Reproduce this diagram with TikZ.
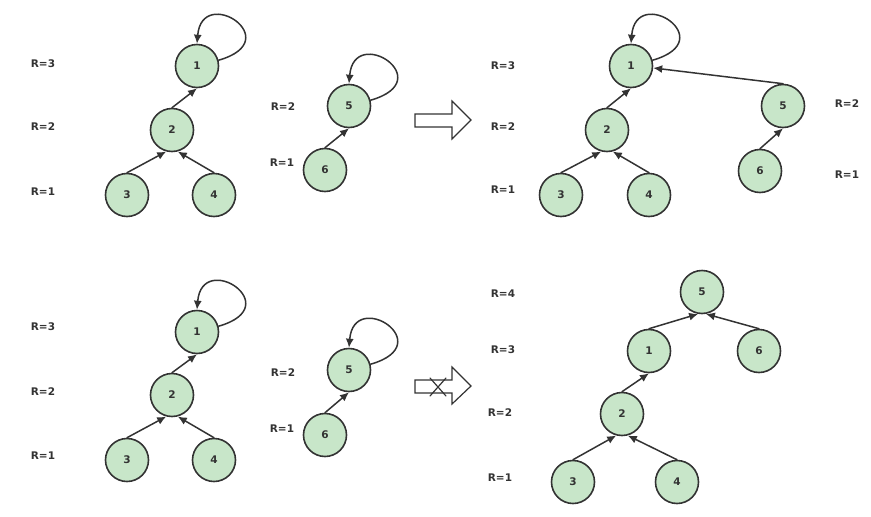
\documentclass[tikz,border=0pt]{standalone}
\usepackage{fontspec}
\setmainfont{DejaVu Sans}
\usetikzlibrary{arrows.meta}
\definecolor{nodegreen}{HTML}{C8E6C9}
\definecolor{inkgray}{HTML}{333333}
\tikzset{
 vert/.style={circle, draw=inkgray, fill=nodegreen, line width=1.6pt, minimum size=43pt, inner sep=0pt, text=inkgray, font=\fontsize{10.5}{12}\selectfont\bfseries},
 rank/.style={text=inkgray, font=\fontsize{10.5}{12}\selectfont\bfseries},
 link/.style={draw=inkgray, line width=1.5pt, -{Latex[length=9pt,width=8pt]}},
 bigarrow/.style={draw=inkgray, line width=1.2pt, fill=white, line join=miter}
}
\begin{document}
\begin{tikzpicture}[x=1pt, y=-1pt, line join=round, line cap=round]
 \useasboundingbox (0,0) rectangle (871,517);
 % top left: two trees
 \node[vert] (a1) at (197,66) {1};
 \node[vert] (a2) at (172,130) {2};
 \node[vert] (a3) at (127,195) {3};
 \node[vert] (a4) at (214,195) {4};
 \node[vert] (a5) at (349,106) {5};
 \node[vert] (a6) at (325,170) {6};
 \node[rank] (ra3) at (43,64) {R=3};
 \node[rank] (ra2) at (43,127) {R=2};
 \node[rank] (ra1) at (43,192) {R=1};
 \node[rank] (ra5) at (283,107) {R=2};
 \node[rank] (ra6) at (282,163) {R=1};
 \draw[link] (a1.15) .. controls +(70,-20) and +(5,-60) .. (a1.north);
 \draw[link] (a5.15) .. controls +(70,-20) and +(5,-60) .. (a5.north);
 \draw[link] (a2.north) -- (a1.south);
 \draw[link] (a3.north) -- (a2.-105);
 \draw[link] (a4.north) -- (a2.-75);
 \draw[link] (a6.north) -- (a5.south);
 \draw[bigarrow] (415,114)--(452,114)--(452,101)--(471,120)--(452,139)--(452,127)--(415,127)--cycle;
 % top right: 5 hung below 1
 \node[vert] (b1) at (631,66) {1};
 \node[vert] (b2) at (607,130) {2};
 \node[vert] (b3) at (561,195) {3};
 \node[vert] (b4) at (649,195) {4};
 \node[vert] (b5) at (783,106) {5};
 \node[vert] (b6) at (760,171) {6};
 \node[rank] (rb3) at (503,66) {R=3};
 \node[rank] (rb2) at (503,127) {R=2};
 \node[rank] (rb1) at (503,190) {R=1};
 \node[rank] (rb5) at (847,104) {R=2};
 \node[rank] (rb6) at (847,175) {R=1};
 \draw[link] (b1.15) .. controls +(70,-20) and +(5,-60) .. (b1.north);
 \draw[link] (b2.north) -- (b1.south);
 \draw[link] (b3.north) -- (b2.-105);
 \draw[link] (b4.north) -- (b2.-75);
 \draw[link] (b6.north) -- (b5.south);
 \draw[link] (b5.north) -- (b1.-5);
 % bottom left: same two trees
 \node[vert] (c1) at (197,332) {1};
 \node[vert] (c2) at (172,395) {2};
 \node[vert] (c3) at (127,460) {3};
 \node[vert] (c4) at (214,460) {4};
 \node[vert] (c5) at (349,370) {5};
 \node[vert] (c6) at (325,435) {6};
 \node[rank] (rc3) at (43,327) {R=3};
 \node[rank] (rc2) at (43,392) {R=2};
 \node[rank] (rc1) at (43,456) {R=1};
 \node[rank] (rc5) at (283,373) {R=2};
 \node[rank] (rc6) at (282,429) {R=1};
 \draw[link] (c1.15) .. controls +(70,-20) and +(5,-60) .. (c1.north);
 \draw[link] (c5.15) .. controls +(70,-20) and +(5,-60) .. (c5.north);
 \draw[link] (c2.north) -- (c1.south);
 \draw[link] (c3.north) -- (c2.-105);
 \draw[link] (c4.north) -- (c2.-75);
 \draw[link] (c6.north) -- (c5.south);
 \draw[bigarrow] (415,380)--(452,380)--(452,367)--(471,386)--(452,404)--(452,393)--(415,393)--cycle;
 \draw[inkgray, line width=1.2pt] (430,378)--(446,396) (446,378)--(430,396);
 % bottom right: 1 hung below 5
 \node[vert] (d5) at (702,292) {5};
 \node[vert] (d1) at (649,351) {1};
 \node[vert] (d6) at (759,351) {6};
 \node[vert] (d2) at (622,414) {2};
 \node[vert] (d3) at (573,482) {3};
 \node[vert] (d4) at (677,482) {4};
 \node[rank] (rd5) at (503,294) {R=4};
 \node[rank] (rd1) at (503,350) {R=3};
 \node[rank] (rd2) at (500,413) {R=2};
 \node[rank] (rd3) at (500,478) {R=1};
 \draw[link] (d1.north) -- (d5.-100);
 \draw[link] (d6.north) -- (d5.-80);
 \draw[link] (d2.north) -- (d1.south);
 \draw[link] (d3.north) -- (d2.-105);
 \draw[link] (d4.north) -- (d2.-75);
\end{tikzpicture}
\end{document}
